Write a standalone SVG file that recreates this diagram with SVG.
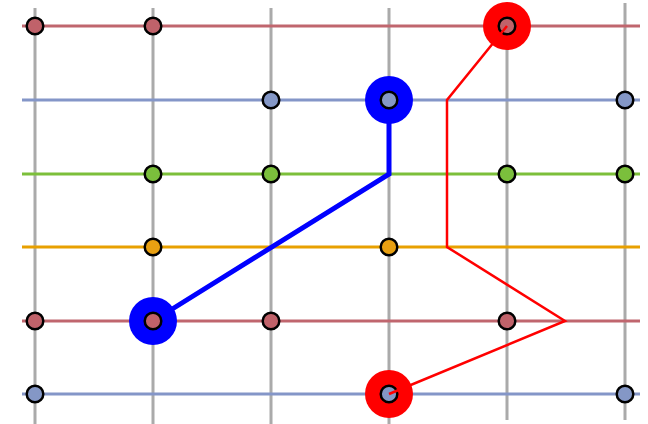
<svg xmlns="http://www.w3.org/2000/svg" width="648" height="424" viewBox="0 0 648 424">
<style>
.v{stroke:#aaaaaa;stroke-width:3;fill:none}
.h{stroke-width:3;fill:none}
.n{stroke:#000;stroke-width:2.5}
.r{fill:#c0626a}.b{fill:#8497c6}.g{fill:#7bbf3c}.o{fill:#e8a012}
</style>
<rect width="648" height="424" fill="#fff"/>
<g id="grid">
<line class="v" x1="35" y1="8" x2="35" y2="424"/>
<line class="v" x1="153" y1="8" x2="153" y2="424"/>
<line class="v" x1="271" y1="8" x2="271" y2="424"/>
<line class="v" x1="389" y1="8" x2="389" y2="424"/>
<line class="v" x1="507" y1="5" x2="507" y2="420"/>
<line class="v" x1="625" y1="3" x2="625" y2="420"/>
<line class="h" stroke="#c0666e" x1="22" y1="26" x2="640" y2="26"/>
<line class="h" stroke="#8496c8" x1="22" y1="100" x2="640" y2="100"/>
<line class="h" stroke="#7cbf3a" x1="22" y1="174" x2="640" y2="174"/>
<line class="h" stroke="#e8a000" x1="22" y1="247" x2="640" y2="247"/>
<line class="h" stroke="#c0666e" x1="22" y1="321" x2="640" y2="321"/>
<line class="h" stroke="#8496c8" x1="22" y1="394" x2="640" y2="394"/>
</g>
<g id="highlights">
<circle cx="507" cy="26" r="24" fill="#ff0000"/>
<circle cx="389" cy="394" r="24" fill="#ff0000"/>
<circle cx="389" cy="100" r="24" fill="#0000ff"/>
<circle cx="153" cy="321" r="24" fill="#0000ff"/>
</g>
<g id="connectors">
<polyline points="153,321 389,174 389,100" fill="none" stroke="#0000ff" stroke-width="5" stroke-linejoin="miter"/>
</g>
<g id="nodes">
<g id="n-r1"><circle class="n r" cx="35" cy="26" r="8.3"/><circle class="n r" cx="153" cy="26" r="8.3"/><circle class="n r" cx="507" cy="26" r="8.3"/></g>
<g id="n-b1"><circle class="n b" cx="271" cy="100" r="8.3"/><circle class="n b" cx="389" cy="100" r="8.3"/><circle class="n b" cx="625" cy="100" r="8.3"/></g>
<g id="n-g"><circle class="n g" cx="153" cy="174" r="8.3"/><circle class="n g" cx="271" cy="174" r="8.3"/><circle class="n g" cx="507" cy="174" r="8.3"/><circle class="n g" cx="625" cy="174" r="8.3"/></g>
<g id="n-o"><circle class="n o" cx="153" cy="247" r="8.3"/><circle class="n o" cx="389" cy="247" r="8.3"/></g>
<g id="n-r2"><circle class="n r" cx="35" cy="321" r="8.3"/><circle class="n r" cx="153" cy="321" r="8.3"/><circle class="n r" cx="271" cy="321" r="8.3"/><circle class="n r" cx="507" cy="321" r="8.3"/></g>
<g id="n-b2"><circle class="n b" cx="35" cy="394" r="8.3"/><circle class="n b" cx="389" cy="394" r="8.3"/><circle class="n b" cx="625" cy="394" r="8.3"/></g>
</g>
<g id="route">
<polyline points="507,26 447,100 447,247 565,321 389,394" fill="none" stroke="#ff0000" stroke-width="2.5" stroke-linejoin="miter"/>
</g>
</svg>
